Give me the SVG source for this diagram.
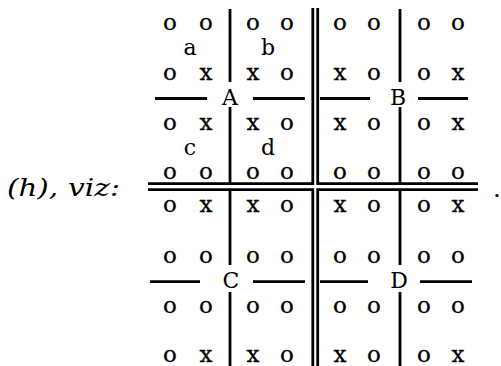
<svg xmlns="http://www.w3.org/2000/svg" width="501" height="366" viewBox="0 0 501 366">
<style>
.t{font-family:"DejaVu Serif","Liberation Serif",serif;font-size:23px;fill:#000;stroke:#000;stroke-width:0.3;text-anchor:middle}
.lb{font-family:"DejaVu Serif","Liberation Serif",serif;font-size:22px;fill:#000;text-anchor:middle}
.it{font-family:"DejaVu Serif","Liberation Serif",serif;font-size:24px;font-style:italic;fill:#000}
.ln{stroke:#000;stroke-width:2.8;fill:none;stroke-linecap:butt;stroke-linejoin:miter}
</style>
<rect width="501" height="366" fill="#fff"/>
<text class="it" x="7" y="196" textLength="51" lengthAdjust="spacingAndGlyphs">(h),</text>
<text class="it" x="68" y="196" textLength="52" lengthAdjust="spacingAndGlyphs">viz:</text>
<text class="t" x="497" y="197">.</text>
<g id="connectors">
<path class="ln" d="M312.8 8V183.7H148"/>
<path class="ln" d="M317.7 8V183.7H478"/>
<path class="ln" d="M312.8 366V189.7H148"/>
<path class="ln" d="M317.7 366V189.7H478"/>
<path class="ln" d="M230 9V82M230 107V183M230 190V265M230 292V366"/>
<path class="ln" d="M400 9V82M400 107V183M400 190V265M400 292V366"/>
<path class="ln" d="M155 98.5H207M253 98.5H305M320 98.5H370M418 98.5H468"/>
<path class="ln" d="M150 281.7H200M253 281.7H305M320 281.7H368M420 281.7H472"/>
</g>
<g id="A">
<text class="t" x="170" y="30">o</text><text class="t" x="206" y="30">o</text>
<text class="t" x="253" y="30">o</text><text class="t" x="287" y="30">o</text>
<text class="lb" x="190" y="55">a</text><text class="lb" x="268" y="55">b</text>
<text class="t" x="170" y="80">o</text><text class="t" x="206" y="80">x</text>
<text class="t" x="253" y="80">x</text><text class="t" x="287" y="80">o</text>
<text class="lb" x="230" y="105">A</text>
<text class="t" x="170" y="130">o</text><text class="t" x="206" y="130">x</text>
<text class="t" x="253" y="130">x</text><text class="t" x="287" y="130">o</text>
<text class="lb" x="190" y="155">c</text><text class="lb" x="268" y="155">d</text>
<text class="t" x="170" y="179">o</text><text class="t" x="206" y="179">o</text>
<text class="t" x="253" y="179">o</text><text class="t" x="287" y="179">o</text>
</g>
<g id="B">
<text class="t" x="340" y="30">o</text><text class="t" x="374" y="30">o</text>
<text class="t" x="424" y="30">o</text><text class="t" x="458" y="30">o</text>
<text class="t" x="340" y="80">x</text><text class="t" x="374" y="80">o</text>
<text class="t" x="424" y="80">o</text><text class="t" x="458" y="80">x</text>
<text class="lb" x="398" y="105">B</text>
<text class="t" x="340" y="130">x</text><text class="t" x="374" y="130">o</text>
<text class="t" x="424" y="130">o</text><text class="t" x="458" y="130">x</text>
<text class="t" x="340" y="179">o</text><text class="t" x="374" y="179">o</text>
<text class="t" x="424" y="179">o</text><text class="t" x="458" y="179">o</text>
</g>
<g id="C">
<text class="t" x="170" y="212">o</text><text class="t" x="206" y="212">x</text>
<text class="t" x="253" y="212">x</text><text class="t" x="287" y="212">o</text>
<text class="t" x="170" y="263">o</text><text class="t" x="206" y="263">o</text>
<text class="t" x="253" y="263">o</text><text class="t" x="287" y="263">o</text>
<text class="lb" x="231" y="288">C</text>
<text class="t" x="170" y="313">o</text><text class="t" x="206" y="313">o</text>
<text class="t" x="253" y="313">o</text><text class="t" x="287" y="313">o</text>
<text class="t" x="170" y="362">o</text><text class="t" x="206" y="362">x</text>
<text class="t" x="253" y="362">x</text><text class="t" x="287" y="362">o</text>
</g>
<g id="D">
<text class="t" x="340" y="212">x</text><text class="t" x="374" y="212">o</text>
<text class="t" x="424" y="212">o</text><text class="t" x="458" y="212">x</text>
<text class="t" x="340" y="263">o</text><text class="t" x="374" y="263">o</text>
<text class="t" x="424" y="263">o</text><text class="t" x="458" y="263">o</text>
<text class="lb" x="399" y="288">D</text>
<text class="t" x="340" y="313">o</text><text class="t" x="374" y="313">o</text>
<text class="t" x="424" y="313">o</text><text class="t" x="458" y="313">o</text>
<text class="t" x="340" y="362">x</text><text class="t" x="374" y="362">o</text>
<text class="t" x="424" y="362">o</text><text class="t" x="458" y="362">x</text>
</g>
</svg>
